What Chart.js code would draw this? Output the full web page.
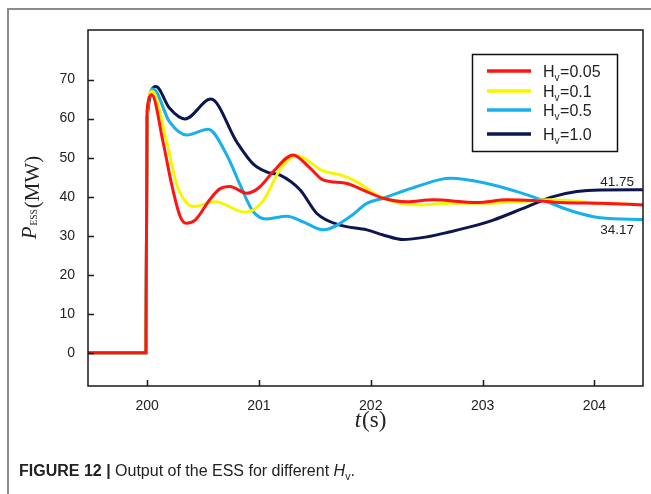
<!DOCTYPE html>
<html>
<head>
<meta charset="utf-8">
<script src="https://cdn.jsdelivr.net/npm/chart.js@4.4.0/dist/chart.umd.min.js"></script>
<style>
body { margin: 0; background: #fff; }
#wrap { position: relative; width: 651px; height: 494px; overflow: hidden; background: #fff; }
#frame { position: absolute; left: 7px; top: 8px; width: 700px; height: 600px; border-left: 2px solid #8c8c8c; border-top: 2px solid #8c8c8c; }
#essChart { position: absolute; left: 0; top: 0; }
#caption { position: absolute; left: 19px; top: 462px; font: 16px "Liberation Sans", Arial, sans-serif; color: #222; white-space: nowrap; }
#caption sub { font-size: 10.5px; }
</style>
</head>
<body>
<div id="wrap">
  <div id="frame"></div>
  <canvas id="essChart" width="651" height="494"></canvas>
  <div id="caption"><b>FIGURE 12 |</b> Output of the ESS for different <i>H</i><sub>v</sub>.</div>
</div>
<script>
// values, time in s, power in MW
var hvValues = ['0.05', '0.1', '0.5', '1.0'];
var xTicks = [200, 201, 202, 203, 204];
var yTicks = [0, 10, 20, 30, 40, 50, 60, 70];

var tRed = [199.47, 199.99, 200.0, 200.042, 200.143, 200.221, 200.295, 200.35, 200.43, 200.56, 200.65, 200.74, 200.892, 201.0, 201.127, 201.306, 201.458, 201.574, 201.786, 201.932, 202.111, 202.323, 202.558, 202.949, 203.217, 203.453, 203.694, 204.052, 204.434];
var pRed = [0, 0, 62, 66.1, 54, 43, 35.0, 33.2, 34.0, 39.2, 42.0, 42.6, 40.9, 42.3, 46.4, 50.7, 47.3, 44.3, 43.4, 41.7, 39.6, 38.7, 39.2, 38.5, 39.2, 39.0, 38.5, 38.3, 37.9];

var tYellow = [199.47, 199.99, 200.0, 200.045, 200.176, 200.266, 200.355, 200.42, 200.608, 200.877, 201.04, 201.19, 201.34, 201.574, 201.75, 201.876, 202.055, 202.263, 202.469, 202.71, 203.038, 203.307, 203.605, 204.052, 204.434];
var pYellow = [0, 0, 61, 67, 54, 43, 38.4, 37.5, 38.7, 36, 39, 47, 50.5, 46.6, 45.4, 43.8, 40.4, 38.3, 37.9, 38.3, 38.3, 38.7, 39.2, 38.3, 38.0];

var tCyan = [199.47, 199.99, 200.0, 200.054, 200.2, 200.355, 200.546, 200.713, 200.832, 200.948, 201.07, 201.25, 201.4, 201.577, 201.816, 201.965, 202.111, 202.412, 202.71, 203.038, 203.307, 203.575, 203.81, 204.052, 204.434];
var pCyan = [0, 0, 60, 67.6, 59.2, 55.8, 57.3, 50.7, 43, 36.2, 34.3, 35.0, 33.5, 31.5, 34.9, 38.3, 39.6, 42.6, 44.7, 43.4, 41.3, 38.7, 36.2, 34.6, 34.17];

var tNavy = [199.47, 199.99, 200.0, 200.08, 200.2, 200.34, 200.57, 200.802, 200.948, 201.071, 201.19, 201.369, 201.518, 201.726, 201.965, 202.111, 202.29, 202.502, 202.71, 202.949, 203.095, 203.396, 203.631, 203.843, 204.052, 204.434];
var pNavy = [0, 0, 60, 68.2, 62.7, 59.9, 65, 54, 48.4, 46.3, 45.5, 41.7, 35.7, 32.7, 31.5, 30.2, 29, 29.7, 31, 32.7, 34, 37.4, 40, 41.3, 41.7, 41.75];

function toPoints(ts, ps) {
    return ts.map(function (t, i) { return { x: t, y: ps[i] }; });
}

var colors = ['#ff1414', '#f6f600', '#18b0ec', '#0c1650'];
var series = [
    toPoints(tRed, pRed),
    toPoints(tYellow, pYellow),
    toPoints(tCyan, pCyan),
    toPoints(tNavy, pNavy)
];

var tickFont = { family: '"Liberation Sans", Arial, sans-serif', size: 14 };

// frame, inner ticks, legend box, axis titles and end labels
var essDecor = {
    id: 'essDecor',
    afterDatasetsDraw: function (chart) {
        var ctx = chart.ctx, a = chart.chartArea;
        var xs = chart.scales.x, ys = chart.scales.y;
        ctx.save();

        ctx.strokeStyle = '#1a1a1a';
        ctx.lineWidth = 1.5;
        ctx.strokeRect(a.left, a.top, a.right - a.left, a.bottom - a.top);

        ctx.beginPath();
        yTicks.forEach(function (v) {
            var py = Math.round(ys.getPixelForValue(v)) + 0.5;
            ctx.moveTo(a.left, py);
            ctx.lineTo(a.left + 6, py);
        });
        xTicks.forEach(function (v) {
            var px = Math.round(xs.getPixelForValue(v)) + 0.5;
            ctx.moveTo(px, a.bottom);
            ctx.lineTo(px, a.bottom - 6);
        });
        ctx.stroke();

        // legend
        ctx.fillStyle = '#fff';
        ctx.fillRect(472.5, 54.5, 145, 97);
        ctx.strokeStyle = '#111';
        ctx.lineWidth = 1.5;
        ctx.strokeRect(472.5, 54.5, 145, 97);
        var rows = [71, 91, 110, 134];
        chart.data.datasets.forEach(function (ds, i) {
            var ry = rows[i];
            ctx.strokeStyle = ds.borderColor;
            ctx.lineWidth = 3.5;
            ctx.beginPath();
            ctx.moveTo(487, ry);
            ctx.lineTo(531, ry);
            ctx.stroke();
            ctx.fillStyle = '#222';
            ctx.textBaseline = 'alphabetic';
            ctx.textAlign = 'left';
            ctx.font = '16px "Liberation Sans", Arial, sans-serif';
            var tx = 543;
            ctx.fillText('H', tx, ry + 6);
            tx += ctx.measureText('H').width;
            ctx.font = '10px "Liberation Sans", Arial, sans-serif';
            ctx.fillText('v', tx, ry + 10);
            tx += ctx.measureText('v').width + 0.5;
            ctx.font = '16px "Liberation Sans", Arial, sans-serif';
            ctx.fillText('=' + hvValues[i], tx, ry + 6);
        });

        // y axis title P_ESS(MW)
        ctx.save();
        ctx.translate(39, 197.5);
        ctx.rotate(-Math.PI / 2);
        ctx.fillStyle = '#222';
        var fP = 'italic 21px "Liberation Serif", "Times New Roman", serif';
        var fS = '9.5px "Liberation Serif", "Times New Roman", serif';
        var fM = '21px "Liberation Serif", "Times New Roman", serif';
        ctx.font = fP; var wP = ctx.measureText('P').width;
        ctx.font = fS; var wS = ctx.measureText('ESS').width;
        ctx.font = fM; var wM = ctx.measureText('(MW)').width;
        var sx = -(wP + wS + wM + 2) / 2;
        ctx.font = fP; ctx.fillText('P', sx, -3);
        ctx.font = fS; ctx.fillText('ESS', sx + wP + 1, -2);
        ctx.font = fM; ctx.fillText('(MW)', sx + wP + wS + 2, 0);
        ctx.restore();

        // x axis title t(s)
        ctx.fillStyle = '#222';
        ctx.font = 'italic 23px "Liberation Serif", "Times New Roman", serif';
        var wt = ctx.measureText('t').width;
        ctx.font = '23px "Liberation Serif", "Times New Roman", serif';
        var ws = ctx.measureText('(s)').width;
        var cx = 370 - (wt + ws) / 2;
        ctx.font = 'italic 23px "Liberation Serif", "Times New Roman", serif';
        ctx.fillText('t', cx, 427);
        ctx.font = '23px "Liberation Serif", "Times New Roman", serif';
        ctx.fillText('(s)', cx + wt + 1, 427);

        // end values
        ctx.font = '13.5px "Liberation Sans", Arial, sans-serif';
        ctx.textAlign = 'right';
        ctx.textBaseline = 'middle';
        var endX = xs.getPixelForValue(tNavy[tNavy.length - 1]) - 9;
        var vN = pNavy[pNavy.length - 1], vC = pCyan[pCyan.length - 1];
        ctx.fillText(vN.toFixed(2), endX, ys.getPixelForValue(vN) - 8);
        ctx.fillText(vC.toFixed(2), endX, ys.getPixelForValue(vC) + 11);

        ctx.restore();
    }
};

new Chart(document.getElementById('essChart'), {
    type: 'line',
    data: {
        datasets: series.map(function (pts, i) {
            return {
                label: 'Hv=' + hvValues[i],
                data: pts,
                borderColor: colors[i],
                borderWidth: 3,
                pointRadius: 0,
                fill: false,
                cubicInterpolationMode: 'monotone'
            };
        })
    },
    options: {
        responsive: false,
        animation: false,
        layout: { padding: { left: 0, top: 30, right: 8, bottom: 0 } },
        plugins: { legend: { display: false }, tooltip: { enabled: false } },
        scales: {
            x: {
                type: 'linear',
                min: 199.472,
                max: 204.434,
                grid: { display: false },
                border: { display: false },
                afterBuildTicks: function (s) { s.ticks = xTicks.map(function (v) { return { value: v }; }); },
                afterFit: function (s) { s.height = 108; },
                ticks: { font: tickFont, color: '#222', padding: 4, maxRotation: 0 }
            },
            y: {
                min: -8.5,
                max: 82.7,
                grid: { display: false },
                border: { display: false },
                afterBuildTicks: function (s) { s.ticks = yTicks.map(function (v) { return { value: v }; }); },
                afterFit: function (s) { s.width = 88; },
                ticks: { font: tickFont, color: '#222', padding: 5 }
            }
        }
    },
    plugins: [essDecor]
});
</script>
</body>
</html>
